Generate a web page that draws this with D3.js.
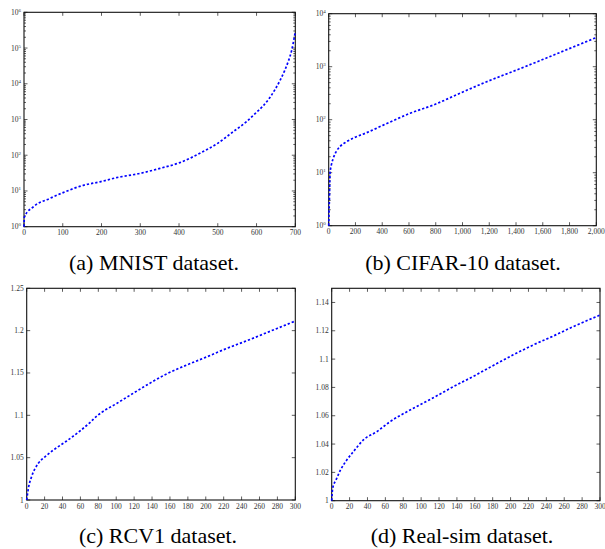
<!DOCTYPE html>
<html>
<head>
<meta charset="utf-8">
<script src="https://cdn.jsdelivr.net/npm/d3@7"></script>
<style>
  html, body { margin: 0; padding: 0; background: #fff; }
  svg { display: block; }
</style>
</head>
<body>
<svg id="chart" width="605" height="549"></svg>
<script>
// ---------------- DATA ----------------
const mnistX = [0, 1, 24, 67, 101, 153, 196, 239, 299, 351, 402, 454, 497, 540, 574, 600, 617, 635, 648, 661, 673, 682, 691, 700];
const mnistY = [1, 1.9, 3.6, 6.2, 9, 14.4, 18, 23.6, 31, 43, 62, 114, 207, 457, 870, 1600, 2400, 4200, 7000, 12600, 24000, 42600, 89000, 290000];

const cifarX = [0, 2, 5, 10, 20, 35, 60, 84, 130, 184, 284, 408, 608, 782, 981, 1181, 1405, 1604, 1803, 2000];
const cifarY = [1, 1.6, 3, 9.7, 14, 19, 26, 31, 38, 45, 57, 79, 132, 189, 315, 521, 867, 1380, 2220, 3550];

const rcv1X = [0, 1.9, 5.5, 13, 20.4, 29.8, 44.7, 59.5, 70.7, 78.2, 100.5, 119, 137.7, 156.4, 178.7, 201, 223.4, 245.7, 268, 300];
const rcv1Y = [1, 1.0138, 1.0276, 1.0433, 1.051, 1.059, 1.0697, 1.0815, 1.0915, 1.099, 1.114, 1.126, 1.138, 1.149, 1.1594, 1.169, 1.179, 1.188, 1.1976, 1.2114];

const realX = [0, 1.1, 4.8, 9.3, 16.8, 24.2, 35.4, 50.3, 65.2, 87.6, 113.6, 136, 158.3, 180.7, 203, 225.4, 247.8, 270, 300];
const realY = [1, 1.0088, 1.0146, 1.021, 1.0287, 1.0346, 1.0429, 1.0487, 1.0558, 1.064, 1.0727, 1.0805, 1.0878, 1.0955, 1.103, 1.110, 1.1163, 1.1229, 1.1311];

const mnistXTicks = [0, 100, 200, 300, 400, 500, 600, 700];
const cifarXTicks = [0, 200, 400, 600, 800, 1000, 1200, 1400, 1600, 1800, 2000];
const rvXTicks = [0, 20, 40, 60, 80, 100, 120, 140, 160, 180, 200, 220, 240, 260, 280, 300];
const mnistYExp = [0, 1, 2, 3, 4, 5, 6];
const cifarYExp = [0, 1, 2, 3, 4];
const rcv1YTicks = [1, 1.05, 1.1, 1.15, 1.2, 1.25];
const realYTicks = [1, 1.02, 1.04, 1.06, 1.08, 1.1, 1.12, 1.14];

const captions = ["(a) MNIST dataset.", "(b) CIFAR-10 dataset.", "(c) RCV1 dataset.", "(d) Real-sim dataset."];

// ---------------- DRAW ----------------
const SERIF = "'Liberation Serif', 'Times New Roman', Times, 'DejaVu Serif', serif";
const svg = d3.select("#chart");

const panels = [
  { xs: mnistX, ys: mnistY, log: true, xDom: [0, 700], yDom: [1, 1e6], xr: [24, 295.3], yr: [226.7, 12.3],
    xTicks: mnistXTicks, yExp: mnistYExp, xFmt: d3.format("d"), cap: captions[0], capX: 154, capY: 270 },
  { xs: cifarX, ys: cifarY, log: true, xDom: [0, 2000], yDom: [1, 1e4], xr: [328.7, 596.3], yr: [225.7, 13.7],
    xTicks: cifarXTicks, yExp: cifarYExp, xFmt: d3.format(","), cap: captions[1], capX: 463, capY: 270 },
  { xs: rcv1X, ys: rcv1Y, log: false, xDom: [0, 300], yDom: [1, 1.25], xr: [26.7, 295.3], yr: [500, 288.3],
    xTicks: rvXTicks, yTicks: rcv1YTicks, xFmt: d3.format("d"), cap: captions[2], capX: 158, capY: 543 },
  { xs: realX, ys: realY, log: false, xDom: [0, 300], yDom: [1, 1.15], xr: [331.7, 600], yr: [500.7, 288.3],
    xTicks: rvXTicks, yTicks: realYTicks, xFmt: d3.format("d"), cap: captions[3], capX: 462, capY: 543 }
];

const MAJ = 3.5, MIN = 2;

function label(g) {
  return g.append("text").attr("font-family", SERIF).attr("font-size", 7.5).attr("fill", "#333");
}

panels.forEach(p => {
  const x = d3.scaleLinear().domain(p.xDom).range(p.xr);
  const y = p.log ? d3.scaleLog().domain(p.yDom).range(p.yr) : d3.scaleLinear().domain(p.yDom).range(p.yr);
  const g = svg.append("g");
  const [x0, x1] = p.xr, [yb, yt] = p.yr;

  // tick marks
  const tg = g.append("g").attr("stroke", "#333").attr("stroke-width", 0.8);
  p.xTicks.forEach(t => {
    const px = x(t);
    tg.append("line").attr("x1", px).attr("x2", px).attr("y1", yb).attr("y2", yb - MAJ);
    tg.append("line").attr("x1", px).attr("x2", px).attr("y1", yt).attr("y2", yt + MAJ);
  });
  let yMajor;
  if (p.log) {
    yMajor = p.yExp.map(e => Math.pow(10, e));
    for (let e = p.yExp[0]; e < p.yExp[p.yExp.length - 1]; e++) {
      for (let m = 2; m <= 9; m++) {
        const py = y(m * Math.pow(10, e));
        tg.append("line").attr("x1", x0).attr("x2", x0 + MIN).attr("y1", py).attr("y2", py);
        tg.append("line").attr("x1", x1).attr("x2", x1 - MIN).attr("y1", py).attr("y2", py);
      }
    }
  } else {
    yMajor = p.yTicks;
  }
  yMajor.forEach(t => {
    const py = y(t);
    tg.append("line").attr("x1", x0).attr("x2", x0 + MAJ).attr("y1", py).attr("y2", py);
    tg.append("line").attr("x1", x1).attr("x2", x1 - MAJ).attr("y1", py).attr("y2", py);
  });

  // frame
  g.append("rect").attr("x", x0).attr("y", yt).attr("width", x1 - x0).attr("height", yb - yt)
    .attr("fill", "none").attr("stroke", "#111").attr("stroke-width", 1.1);

  // x labels
  p.xTicks.forEach(t => {
    label(g).attr("x", x(t)).attr("y", yb + 8.5).attr("text-anchor", "middle").text(p.xFmt(t));
  });
  // y labels
  if (p.log) {
    p.yExp.forEach(e => {
      const tx = label(g).attr("x", x0 - 3).attr("y", y(Math.pow(10, e)) + 2.5).attr("text-anchor", "end");
      tx.append("tspan").text("10");
      tx.append("tspan").attr("dy", -3).attr("font-size", 5).text(e);
    });
  } else {
    const fmt = v => String(+v.toFixed(2));
    p.yTicks.forEach(t => {
      label(g).attr("x", x0 - 3).attr("y", y(t) + 2.5).attr("text-anchor", "end").text(fmt(t));
    });
  }

  // curve
  const pts = p.xs.map((v, i) => [v, p.ys[i]]);
  const line = d3.line().x(d => x(d[0])).y(d => y(d[1])).curve(d3.curveMonotoneX);
  g.append("path").datum(pts).attr("d", line).attr("fill", "none")
    .attr("stroke", "#0000ff").attr("stroke-width", 1.7).attr("stroke-dasharray", "2.3,2");

  // caption
  svg.append("text").attr("font-family", SERIF).attr("font-size", 22).attr("fill", "#000")
    .attr("x", p.capX).attr("y", p.capY).attr("text-anchor", "middle").text(p.cap);
});
</script>
</body>
</html>
